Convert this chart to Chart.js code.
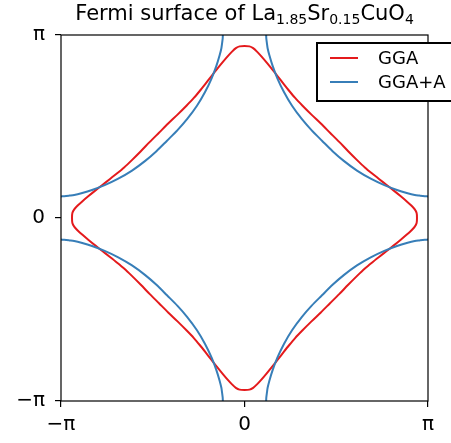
<!DOCTYPE html>
<html>
<head>
<meta charset="utf-8">
<script src="https://cdn.jsdelivr.net/npm/chart.js@4/dist/chart.umd.min.js"></script>
<style>
  html, body { margin: 0; padding: 0; background: #fff; }
</style>
</head>
<body>
<canvas id="fs" width="451" height="443"></canvas>
<script>
// all k values in units of pi
const tickVals = [-1, 0, 1];
const tickNames = ['\u2212\u03c0', '0', '\u03c0'];

// GGA: closed contour, starts on the diagonal of the first quadrant, runs clockwise
const ggaK = [
  [0.466,0.466],[0.516,0.416],[0.565,0.365],[0.615,0.315],[0.656,0.276],[0.694,0.244],[0.733,0.213],
  [0.773,0.182],[0.812,0.151],[0.85,0.12],[0.883,0.092],[0.909,0.068],[0.928,0.047],[0.938,0.027],[0.94,0],
  [0.938,-0.027],[0.928,-0.047],[0.909,-0.068],[0.883,-0.092],[0.85,-0.12],[0.812,-0.151],[0.773,-0.182],
  [0.733,-0.213],[0.694,-0.244],[0.656,-0.276],[0.615,-0.315],[0.565,-0.365],[0.516,-0.416],[0.466,-0.466],
  [0.416,-0.516],[0.365,-0.565],[0.315,-0.615],[0.276,-0.656],[0.244,-0.694],[0.213,-0.733],[0.182,-0.773],
  [0.151,-0.812],[0.12,-0.85],[0.092,-0.883],[0.068,-0.909],[0.047,-0.928],[0.027,-0.938],[0,-0.94],
  [-0.027,-0.938],[-0.047,-0.928],[-0.068,-0.909],[-0.092,-0.883],[-0.12,-0.85],[-0.151,-0.812],[-0.182,-0.773],
  [-0.213,-0.733],[-0.244,-0.694],[-0.276,-0.656],[-0.315,-0.615],[-0.365,-0.565],[-0.416,-0.516],[-0.466,-0.466],
  [-0.516,-0.416],[-0.565,-0.365],[-0.615,-0.315],[-0.656,-0.276],[-0.694,-0.244],[-0.733,-0.213],[-0.773,-0.182],
  [-0.812,-0.151],[-0.85,-0.12],[-0.883,-0.092],[-0.909,-0.068],[-0.928,-0.047],[-0.938,-0.027],[-0.94,0],
  [-0.938,0.027],[-0.928,0.047],[-0.909,0.068],[-0.883,0.092],[-0.85,0.12],[-0.812,0.151],[-0.773,0.182],
  [-0.733,0.213],[-0.694,0.244],[-0.656,0.276],[-0.615,0.315],[-0.565,0.365],[-0.516,0.416],[-0.466,0.466],
  [-0.416,0.516],[-0.365,0.565],[-0.315,0.615],[-0.276,0.656],[-0.244,0.694],[-0.213,0.733],[-0.182,0.773],
  [-0.151,0.812],[-0.12,0.85],[-0.092,0.883],[-0.068,0.909],[-0.047,0.928],[-0.027,0.938],[0,0.94],
  [0.027,0.938],[0.047,0.928],[0.068,0.909],[0.092,0.883],[0.12,0.85],[0.151,0.812],[0.182,0.773],
  [0.213,0.733],[0.244,0.694],[0.276,0.656],[0.315,0.615],[0.365,0.565],[0.416,0.516],[0.466,0.466]
];

// GGA+A: four arcs around the zone corners
const plusTR = [
  [0.118,1.0],[0.1188,0.982],[0.1224,0.953],[0.126,0.928],[0.1356,0.889],[0.1533,0.831],[0.1797,0.762],
  [0.215,0.688],[0.2591,0.613],[0.312,0.541],[0.365,0.480],[0.4223,0.4223],[0.480,0.365],[0.541,0.312],
  [0.613,0.2591],[0.688,0.215],[0.762,0.1797],[0.831,0.1533],[0.889,0.1356],[0.928,0.126],[0.953,0.1224],
  [0.982,0.1188],[1.0,0.118]
];
const plusTL = [
  [-0.118,1.0],[-0.1188,0.982],[-0.1224,0.953],[-0.126,0.928],[-0.1356,0.889],[-0.1533,0.831],[-0.1797,0.762],
  [-0.215,0.688],[-0.2591,0.613],[-0.312,0.541],[-0.365,0.480],[-0.4223,0.4223],[-0.480,0.365],[-0.541,0.312],
  [-0.613,0.2591],[-0.688,0.215],[-0.762,0.1797],[-0.831,0.1533],[-0.889,0.1356],[-0.928,0.126],[-0.953,0.1224],
  [-0.982,0.1188],[-1.0,0.118]
];
const plusBR = [
  [0.118,-1.0],[0.1188,-0.982],[0.1224,-0.953],[0.126,-0.928],[0.1356,-0.889],[0.1533,-0.831],[0.1797,-0.762],
  [0.215,-0.688],[0.2591,-0.613],[0.312,-0.541],[0.365,-0.480],[0.4223,-0.4223],[0.480,-0.365],[0.541,-0.312],
  [0.613,-0.2591],[0.688,-0.215],[0.762,-0.1797],[0.831,-0.1533],[0.889,-0.1356],[0.928,-0.126],[0.953,-0.1224],
  [0.982,-0.1188],[1.0,-0.118]
];
const plusBL = [
  [-0.118,-1.0],[-0.1188,-0.982],[-0.1224,-0.953],[-0.126,-0.928],[-0.1356,-0.889],[-0.1533,-0.831],[-0.1797,-0.762],
  [-0.215,-0.688],[-0.2591,-0.613],[-0.312,-0.541],[-0.365,-0.480],[-0.4223,-0.4223],[-0.480,-0.365],[-0.541,-0.312],
  [-0.613,-0.2591],[-0.688,-0.215],[-0.762,-0.1797],[-0.831,-0.1533],[-0.889,-0.1356],[-0.928,-0.126],[-0.953,-0.1224],
  [-0.982,-0.1188],[-1.0,-0.118]
];

const RED = '#e41a1c';
const BLUE = '#377eb8';
const FONT = '"DejaVu Sans", sans-serif';

function toPts(arr) { return arr.map(p => ({ x: p[0], y: p[1] })); }

function line(label, arr, color, order) {
  return {
    label: label,
    data: toPts(arr),
    showLine: true,
    borderColor: color,
    backgroundColor: color,
    borderWidth: 2,
    pointRadius: 0,
    tension: 0.3,
    order: order
  };
}

// title with subscripts
const titleParts = [
  ['Fermi surface of La', false], ['1.85', true], ['Sr', false],
  ['0.15', true], ['CuO', false], ['4', true]
];
const titlePlugin = {
  id: 'subTitle',
  afterDraw(chart) {
    const ctx = chart.ctx;
    const a = chart.chartArea;
    ctx.save();
    ctx.fillStyle = '#000';
    ctx.textBaseline = 'alphabetic';
    let total = 0;
    titleParts.forEach(p => {
      ctx.font = (p[1] ? '14px ' : '21px ') + FONT;
      total += ctx.measureText(p[0]).width;
    });
    let x = (a.left + a.right) / 2 - total / 2;
    titleParts.forEach(p => {
      ctx.font = (p[1] ? '14px ' : '21px ') + FONT;
      ctx.fillText(p[0], x, p[1] ? 24 : 20);
      x += ctx.measureText(p[0]).width;
    });
    ctx.restore();
  }
};

// frame + boxed legend
const framePlugin = {
  id: 'frameLegend',
  afterDatasetsDraw(chart) {
    const ctx = chart.ctx;
    const a = chart.chartArea;
    ctx.save();
    ctx.strokeStyle = '#000';
    ctx.lineWidth = 1.2;
    ctx.strokeRect(a.left, a.top, a.right - a.left, a.bottom - a.top);

    // legend box
    ctx.fillStyle = '#fff';
    ctx.fillRect(317, 43, 140, 58);
    ctx.lineWidth = 2;
    ctx.strokeRect(317, 43, 140, 58);
    const items = [['GGA', RED, 58], ['GGA+A', BLUE, 82]];
    ctx.font = '18px ' + FONT;
    ctx.textBaseline = 'middle';
    items.forEach(it => {
      ctx.strokeStyle = it[1];
      ctx.lineWidth = 2;
      ctx.beginPath();
      ctx.moveTo(330, it[2]);
      ctx.lineTo(358, it[2]);
      ctx.stroke();
      ctx.fillStyle = '#000';
      ctx.fillText(it[0], 378, it[2] + 1);
    });
    ctx.restore();
  }
};

function axis(pos) {
  return {
    type: 'linear',
    position: pos,
    min: -1,
    max: 1,
    afterBuildTicks: s => { s.ticks = tickVals.map(v => ({ value: v })); },
    afterFit: s => {
      if (pos === 'left') s.width = 61; else s.height = 42;
    },
    grid: { drawOnChartArea: false, drawTicks: true, tickLength: 6, color: '#000', lineWidth: 1.2 },
    border: { display: false },
    ticks: {
      color: '#000',
      font: { family: FONT, size: 20 },
      padding: pos === 'left' ? 10 : 6,
      maxRotation: 0,
      autoSkip: false,
      callback: v => tickNames[tickVals.indexOf(v)]
    }
  };
}

new Chart(document.getElementById('fs'), {
  type: 'scatter',
  data: {
    datasets: [
      line('GGA', ggaK, RED, 2),
      line('GGA+A', plusTL, BLUE, 1),
      line('', plusTR, BLUE, 1),
      line('', plusBL, BLUE, 1),
      line('', plusBR, BLUE, 1)
    ]
  },
  options: {
    responsive: false,
    devicePixelRatio: 1,
    animation: false,
    layout: { padding: { top: 35, right: 23, left: 0, bottom: 0 } },
    plugins: {
      legend: { display: false },
      tooltip: { enabled: false }
    },
    scales: {
      x: axis('bottom'),
      y: axis('left')
    }
  },
  plugins: [titlePlugin, framePlugin]
});
</script>
</body>
</html>
